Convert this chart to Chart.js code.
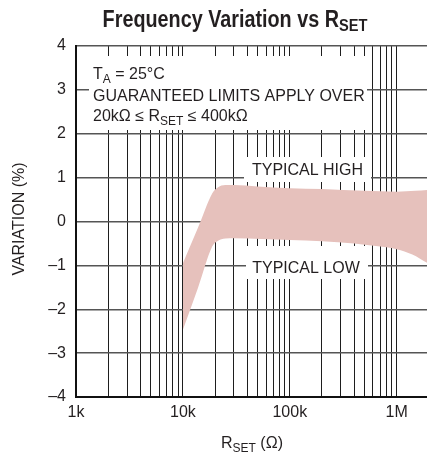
<!DOCTYPE html>
<html>
<head>
<meta charset="utf-8">
<script src="https://cdn.jsdelivr.net/npm/chart.js@4.4.0/dist/chart.umd.min.js"></script>
<style>
html, body { margin: 0; padding: 0; background: #fff; overflow: hidden; }
#wrap { width: 427px; height: 462px; position: relative; }
</style>
</head>
<body>
<div id="wrap"><canvas id="myChart"></canvas></div>
<script>
var FONT = '"Liberation Sans Narrow", "Liberation Sans", Arial, sans-serif';

// grid positions on the log axis, and the few that carry a label
var gridValues = [1000, 2000, 3000, 4000, 5000, 6000, 7000, 8000, 9000,
    10000, 20000, 30000, 40000, 50000, 60000, 70000, 80000, 90000,
    100000, 200000, 300000, 400000, 500000, 600000, 700000, 800000, 900000,
    1000000];
var xTickLabels = { 1000: '1k', 10000: '10k', 100000: '100k', 1000000: '1M' };
var yTicks = [-4, -3, -2, -1, 0, 1, 2, 3, 4];

// typical high / low edges of the band (RSET in ohms, variation in %)
var highR   = [10000, 13800, 18900, 21000, 25000, 30000, 50000, 100000, 200000, 500000, 1000000, 1500000, 1920000];
var highVal = [-0.95, -0.15, 0.65, 0.77, 0.83, 0.83, 0.80, 0.76, 0.74, 0.70, 0.68, 0.70, 0.72];
var lowR    = [10000, 13800, 18800, 21000, 25000, 30000, 100000, 200000, 400000, 700000, 1000000, 1400000, 1920000];
var lowVal  = [-2.47, -1.52, -0.57, -0.45, -0.39, -0.38, -0.42, -0.45, -0.50, -0.57, -0.63, -0.75, -0.94];

function pts(xs, ys) {
    return xs.map(function (x, i) { return { x: x, y: ys[i] }; });
}

// draws a run of text pieces, some of them subscripts; sx squeezes it sideways
function drawRuns(ctx, runs, x, y, align, sx) {
    sx = sx || 1;
    var total = 0;
    runs.forEach(function (r) { ctx.font = r.font; total += ctx.measureText(r.t).width; });
    ctx.save();
    ctx.translate(x, y);
    ctx.scale(sx, 1);
    var cx = align === 'center' ? -total / 2 : 0;
    ctx.textAlign = 'left';
    ctx.textBaseline = 'alphabetic';
    runs.forEach(function (r) {
        ctx.font = r.font;
        ctx.fillText(r.t, cx, r.dy || 0);
        cx += ctx.measureText(r.t).width;
    });
    ctx.restore();
}

function mask(ctx, x0, y0, x1, y1) {
    ctx.fillStyle = '#fff';
    ctx.fillRect(x0, y0, x1 - x0, y1 - y0);
}

var textPlugin = {
    id: 'textPlugin',
    afterDraw: function (chart) {
        var ctx = chart.ctx;
        var f = function (s, b) { return (b ? 'bold ' : '') + s + 'px ' + FONT; };
        var ink = '#231f20';
        ctx.save();

        // title
        ctx.fillStyle = ink;
        drawRuns(ctx, [
            { t: 'Frequency Variation vs R', font: f(23, true) },
            { t: 'SET', font: f(17, true), dy: 4 }
        ], 235, 27, 'center', 0.86);

        // conditions box
        mask(ctx, 89, 56, 367, 130);
        ctx.fillStyle = ink;
        drawRuns(ctx, [
            { t: 'T', font: f(16) },
            { t: 'A', font: f(12), dy: 4 },
            { t: ' = 25°C', font: f(16) }
        ], 93, 79, 'left');
        drawRuns(ctx, [{ t: 'GUARANTEED LIMITS APPLY OVER', font: f(16) }], 93, 100.5, 'left');
        drawRuns(ctx, [
            { t: '20kΩ ≤ R', font: f(16) },
            { t: 'SET', font: f(12), dy: 4 },
            { t: ' ≤ 400kΩ', font: f(16) }
        ], 93, 120.5, 'left');

        // band labels
        mask(ctx, 244, 157, 371, 182);
        ctx.fillStyle = ink;
        drawRuns(ctx, [{ t: 'TYPICAL HIGH', font: f(16) }], 307.5, 175, 'center');
        mask(ctx, 246, 246, 368, 279);
        ctx.fillStyle = ink;
        drawRuns(ctx, [{ t: 'TYPICAL LOW', font: f(16) }], 306, 273, 'center');

        // axis titles
        drawRuns(ctx, [
            { t: 'R', font: f(16) },
            { t: 'SET', font: f(12), dy: 4 },
            { t: ' (Ω)', font: f(16) }
        ], 252, 448, 'center');
        ctx.translate(24, 219);
        ctx.rotate(-Math.PI / 2);
        drawRuns(ctx, [{ t: 'VARIATION (%)', font: f(16) }], 0, 0, 'center');

        ctx.restore();
    }
};

var ctx = document.getElementById('myChart');
var myChart = new Chart(ctx, {
    type: 'line',
    data: {
        datasets: [{
            label: 'Typical high',
            data: pts(highR, highVal),
            borderWidth: 0,
            pointRadius: 0,
            cubicInterpolationMode: 'monotone',
            backgroundColor: '#e6c1bc',
            fill: '+1'
        }, {
            label: 'Typical low',
            data: pts(lowR, lowVal),
            borderWidth: 0,
            pointRadius: 0,
            cubicInterpolationMode: 'monotone',
            fill: false
        }]
    },
    plugins: [textPlugin],
    options: {
        responsive: true,
        maintainAspectRatio: false,
        animation: false,
        layout: { padding: { top: 46, left: 0, right: 0, bottom: 0 } },
        plugins: {
            legend: { display: false },
            tooltip: { enabled: false }
        },
        scales: {
            x: {
                type: 'logarithmic',
                min: 1000,
                max: 1920000,
                z: 1,
                afterBuildTicks: function (s) {
                    s.ticks = gridValues.map(function (v) { return { value: v }; });
                },
                afterFit: function (s) { s.height = 65; },
                ticks: {
                    autoSkip: false,
                    maxRotation: 0,
                    padding: 6,
                    color: '#231f20',
                    font: { family: FONT, size: 16 },
                    callback: function (v) { return xTickLabels[v] || ''; }
                },
                grid: { color: '#1e1e1e', lineWidth: 1, drawTicks: false },
                border: { color: '#111', width: 2 }
            },
            y: {
                min: -4,
                max: 4,
                z: 1,
                afterBuildTicks: function (s) {
                    s.ticks = yTicks.map(function (v) { return { value: v }; });
                },
                afterFit: function (s) { s.width = 76; },
                ticks: {
                    padding: 10,
                    color: '#231f20',
                    font: { family: FONT, size: 16 },
                    callback: function (v) { return v < 0 ? '\u2013' + Math.abs(v) : String(v); }
                },
                grid: { color: '#555', lineWidth: 1.5, drawTicks: false },
                border: { color: '#111', width: 2 }
            }
        }
    }
});
</script>
</body>
</html>
